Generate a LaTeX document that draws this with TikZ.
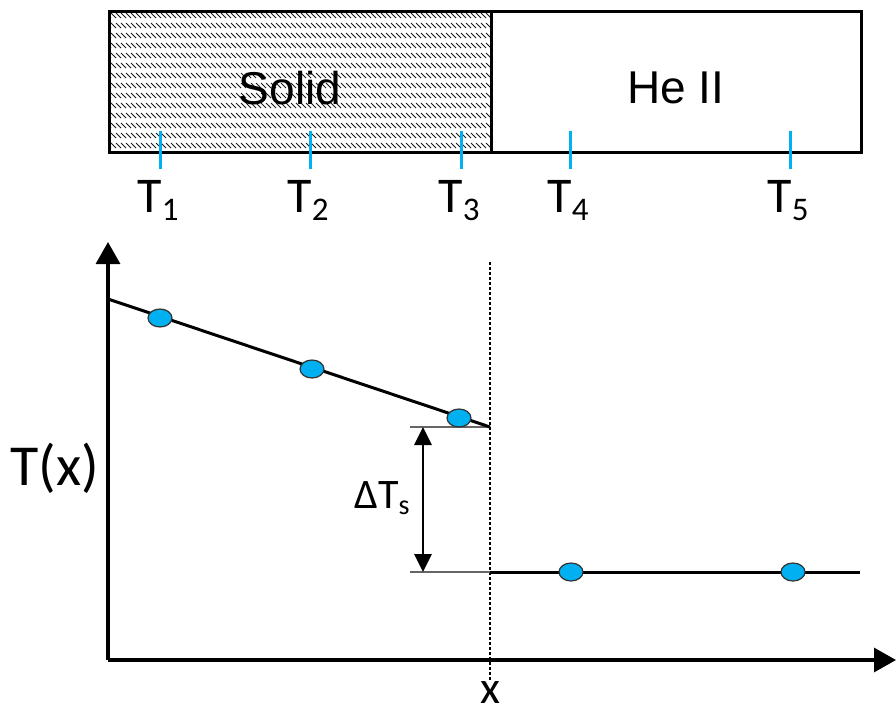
\documentclass[tikz,border=0pt]{standalone}
\usepackage{fontspec}
\setmainfont{Carlito}
\newfontfamily\arialf{Liberation Sans}
\usetikzlibrary{arrows.meta,shapes.geometric}
\definecolor{tcyan}{HTML}{00B0F0}
\newcommand\Tsubx[1]{T\raisebox{-8pt}{\fontsize{33}{33}\selectfont #1}}
\tikzset{
  boxline/.style={line width=3.2pt, draw=black},
  tickmark/.style={draw=tcyan, line width=3pt},
  dotnode/.style={ellipse, fill=tcyan, draw=black!80, line width=1.2pt, minimum width=24pt, minimum height=18pt, inner sep=0pt},
  axisline/.style={line width=3.2pt, -{Triangle[length=22pt,width=24pt]}},
  dataline/.style={line width=3pt},
  guideline/.style={line width=1.4pt, draw=black!60},
  tlabel/.style={font=\fontsize{50}{50}\selectfont, anchor=base, inner sep=0pt},
}
\begin{document}
\begin{tikzpicture}[x=1pt,y=-1pt]
\useasboundingbox (0,0) rectangle (896,715);
% hatching of the solid
\begin{scope}
  \clip (108,10) rectangle (490,151);
  \foreach \yb in {13,23,...,153} {
    \foreach \xb in {96,101,...,496} {
      \draw[line width=0.8pt, black!90] (\xb,\yb) -- (\xb+5,\yb+5);
    }
  }
\end{scope}
\node[draw, boxline, minimum width=382pt, minimum height=141pt, anchor=north west, inner sep=0pt] (solid) at (108,10) {};
\node[draw, boxline, minimum width=370pt, minimum height=141pt, anchor=north west, inner sep=0pt] (heii) at (490,10) {};
\node[font=\arialf\fontsize{46}{46}\selectfont] (soltxt) at (290,88) {Solid};
\node[font=\arialf\fontsize{46}{46}\selectfont] (hetxt) at (676,88) {He II};
% ticks
\foreach \i/\x in {1/160,2/310,3/461,4/570,5/790} {
  \coordinate (ta\i) at (\x,131);
  \coordinate (tb\i) at (\x,169);
  \draw[tickmark] (ta\i) -- (tb\i);
  \node[tlabel] (tl\i) at (\x-2,212) {\Tsubx{\i}};
}
% axes
\coordinate (O) at (108,660);
\coordinate (ytop) at (108,242);
\coordinate (xend) at (896,660);
\draw[axisline] (O) -- (ytop);
\draw[axisline] (O) -- (xend);
\node[font=\fontsize{58}{58}\selectfont] (tx) at (55,468) {T(x)};
\node[font=\fontsize{46}{46}\selectfont, inner sep=0pt] (xl) at (490,693) {x};
% interface dotted line
\coordinate (it) at (490,262);
\coordinate (ib) at (490,680);
\draw[line width=2.6pt, dash pattern=on 2.5pt off 2.5pt] (it) -- (ib);
% data lines
\coordinate (s0) at (108,299);
\coordinate (s1) at (490,427);
\coordinate (g1) at (410,427);
\coordinate (g2) at (410,572);
\coordinate (h0) at (490,572);
\coordinate (h1) at (860,572);
\draw[guideline] (g1) -- (s1);
\draw[guideline] (g2) -- (h0);
\draw[dataline] (s0) -- (s1);
\draw[dataline] (h0) -- (h1);
\node[dotnode] (d1) at (160,318) {};
\node[dotnode] (d2) at (312,369) {};
\node[dotnode] (d3) at (459,418) {};
\node[dotnode] (d4) at (571,572) {};
\node[dotnode] (d5) at (793,572) {};
% delta arrow
\coordinate (da) at (423,427);
\coordinate (db) at (423,572);
\draw[line width=2.8pt, {Triangle[length=18pt,width=17pt]}-{Triangle[length=18pt,width=17pt]}] (da) -- (db);
\node[font=\fontsize{42}{42}\selectfont, anchor=base, inner sep=0pt] (dts) at (382,508) {ΔT\raisebox{-6pt}{\fontsize{28}{28}\selectfont s}};
\end{tikzpicture}
\end{document}
